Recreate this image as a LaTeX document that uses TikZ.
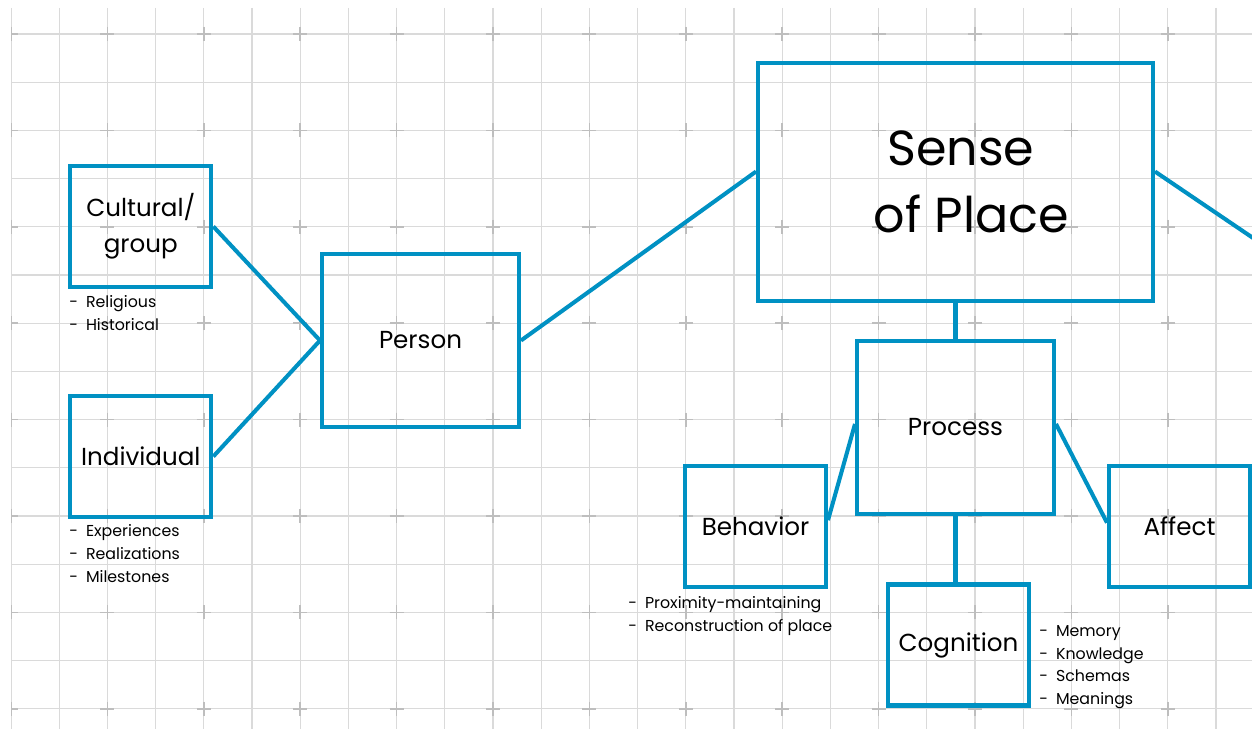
\documentclass[tikz,border=0pt]{standalone}
\usepackage{fontspec}
\setmainfont{Poppins}
\usetikzlibrary{calc}

\definecolor{placeblue}{RGB}{0,145,195}
\definecolor{gridgray}{RGB}{218,218,218}
\definecolor{markgray}{RGB}{190,190,190}

\newcommand{\dashitem}[1]{\makebox[9.5pt][l]{-}#1}

\tikzset{
    box/.style     = {draw=placeblue, line width=2.3pt, minimum width=2.82cm, minimum height=2.42cm,
                      align=center, inner sep=0pt, font=\fontsize{14}{20.4}\selectfont},
    widebox/.style = {box, minimum width=3.94cm, minimum height=3.46cm},
    bigbox/.style  = {box, minimum width=7.9cm, minimum height=4.76cm, font=\fontsize{28}{38.5}\selectfont},
    notes/.style   = {anchor=north west, align=left, inner sep=0pt, font=\fontsize{9}{13}\selectfont},
    link/.style    = {draw=placeblue, line width=2.3pt},
}

\begin{document}
\begin{tikzpicture}[x=0.02cm, y=-0.02cm]
        \useasboundingbox (0,0) rectangle (1252,729);
        \fill[white] (0,0) rectangle (1252,729);

        % grid paper
        \begin{scope}
            \clip (11,8) rectangle (1252,729);
            \foreach \i in {0,...,25}
                \draw[gridgray, line width=0.6pt] ({11+48.2*\i},8) -- ({11+48.2*\i},729);
            \foreach \j in {0,...,14}
                \draw[gridgray, line width=0.6pt] (11,{34+48.2*\j}) -- (1252,{34+48.2*\j});
            \foreach \i in {0,...,12}
                \foreach \j in {0,...,7}
                    \draw[markgray, line width=0.9pt]
                        ({11+96.4*\i-7},{34+96.4*\j}) -- ({11+96.4*\i+7},{34+96.4*\j})
                        ({11+96.4*\i},{34+96.4*\j-7}) -- ({11+96.4*\i},{34+96.4*\j+7});
        \end{scope}

        % boxes
        \node[box]     (cultural)   at (140.8,226.5) {Cultural/\\group};
        \node[box]     (individual) at (140.8,456.5) {Individual};
        \node[widebox] (person)     at (420.5,340.5) {Person};
        \node[bigbox]  (sense)      at (955.5,182)   {\hspace*{6pt}Sense\\\hspace*{18pt}of Place};
        \node[widebox] (process)    at (955.5,427.5) {Process};
        \node[box]     (behavior)   at (755.5,526.5) {Behavior};
        \node[box]     (affect)     at (1179.5,526.5) {Affect};
        \node[box]     (cognition)  at (958.5,645)   {Cognition};
        \coordinate    (offpage)    at (1256,240);

        % links
        \draw[link] (cultural.east)   -- (person.west);
        \draw[link] (individual.east) -- (person.west);
        \draw[link] (person.east)     -- (sense.177);
        \draw[link] (sense.3)         -- (offpage);
        \draw[link] (sense.south)     -- (process.north);
        \draw[link] (process.178)     -- (behavior.5);
        \draw[link] (process.2)       -- (affect.177);
        \draw[link] (process.south)   -- (process.south |- cognition.north);

        % notes under the boxes
        \node[notes] (culturalnotes)   at (69,295)   {\dashitem{Religious}\\\dashitem{Historical}};
        \node[notes] (individualnotes) at (69,524)   {\dashitem{Experiences}\\\dashitem{Realizations}\\\dashitem{Milestones}};
        \node[notes] (behaviornotes)   at (628,596)  {\dashitem{Proximity-maintaining}\\\dashitem{Reconstruction of place}};
        \node[notes] (cognitionnotes)  at (1039,625) {\dashitem{Memory}\\\dashitem{Knowledge}\\\dashitem{Schemas}\\\dashitem{Meanings}};
    \end{tikzpicture}
\end{document}
